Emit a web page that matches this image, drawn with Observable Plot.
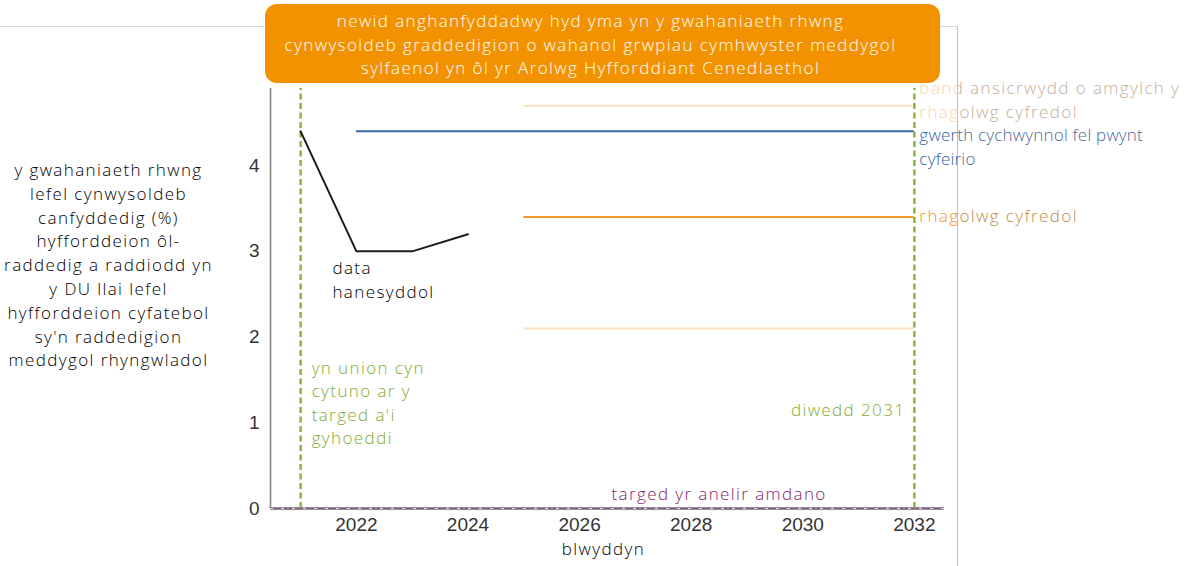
<!DOCTYPE html>
<html>
<head>
<meta charset="utf-8">
<script src="https://cdn.jsdelivr.net/npm/d3@7"></script>
<script src="https://cdn.jsdelivr.net/npm/@observablehq/plot@0.6"></script>
<style>
  html, body { margin: 0; padding: 0; background: #fff; }
  #wrap { position: relative; width: 1187px; height: 566px; overflow: hidden; font-family: "Open Sans", sans-serif; }
  #frame { position: absolute; left: 0; top: 26px; width: 957px; height: 560px;
           border-top: 1px solid #d6d6d6; border-right: 1px solid #bdbdbd; }
  #chart { position: absolute; left: 0; top: 0; }
  #chart g[aria-label="text"] text { letter-spacing: 1.4px; font-weight: 300; }
  #chart g.tight text { letter-spacing: 0.2px; }
  #title { position: absolute; left: 265px; top: 4px; width: 675px; height: 79px;
           background: #f39200; border-radius: 12px; color: #fff;
           font-family: "Open Sans", sans-serif; font-size: 17px; font-weight: 300; line-height: 23.5px; letter-spacing: 1.4px;
           text-align: center; box-sizing: border-box; padding: 5px 24px 0 0; }
</style>
</head>
<body>
<div id="wrap">
  <div id="frame"></div>
  <div id="chart"></div>
  <div id="title">newid anghanfyddadwy hyd yma yn y gwahaniaeth rhwng<br>cynwysoldeb graddedigion o wahanol grwpiau cymhwyster meddygol<br>sylfaenol yn ôl yr Arolwg Hyfforddiant Cenedlaethol</div>
</div>
<script>
// Historical gap (percentage points) between UK and international medical graduates
const years = [2021, 2022, 2023, 2024];
const gapValues = [4.4, 3.0, 3.0, 3.2];

// Reference level (starting value) carried forward
const baselineYears = [2022, 2032];
const baselineValue = 4.4;

// Current projection with its uncertainty band
const forecastYears = [2025, 2032];
const forecastValue = 3.4;
const bandValues = [2.1, 4.7];

// Target gap and the milestone years (agreement of the target, end of 2031)
const targetValue = 0;
const milestoneYears = [2021, 2032];

// Axes
const xTicks = [2022, 2024, 2026, 2028, 2030, 2032];
const yTicks = [0, 1, 2, 3, 4];
const xDomain = [2020.46, 2032.54];
const yDomain = [0, 4.9];

// Text
const yLabel = "y gwahaniaeth rhwng\nlefel cynwysoldeb\ncanfyddedig (%)\nhyfforddeion ôl-\nraddedig a raddiodd yn\ny DU llai lefel\nhyfforddeion cyfatebol\nsy'n raddedigion\nmeddygol rhyngwladol";
const xLabel = "blwyddyn";
const historyLabel = "data\nhanesyddol";
const startLabel = "yn union cyn\ncytuno ar y\ntarged a'i\ngyhoeddi";
const endLabel = "diwedd 2031";
const targetLabel = "targed yr anelir amdano";
const bandLabel = "band ansicrwydd o amgylch y\nrhagolwg cyfredol";
const baselineLabel = "gwerth cychwynnol fel pwynt\ncyfeirio";
const forecastLabel = "rhagolwg cyfredol";

const FONT = "'Open Sans', sans-serif";
const TICK_FONT = "'Liberation Sans', Arial, sans-serif";
const history = years.map((year, i) => ({year, value: gapValues[i]}));

// A right-hand label drawn twice: full colour inside the panel, muted beyond its edge
function sideLabel(text, value, dy, inside, outside, tight = false) {
  const common = {x: milestoneYears[1], y: value, dx: 5, dy, textAnchor: "start", lineAnchor: "middle",
                  fontSize: 17, fontFamily: FONT, lineHeight: 1.38};
  const t = tight ? " tight" : "";
  return [
    Plot.text([text], {...common, fill: inside, ariaDescription: "side-in" + t}),
    Plot.text([text], {...common, fill: outside, ariaDescription: "side-out" + t})
  ];
}

const chart = Plot.plot({
  width: 1187,
  height: 566,
  marginLeft: 270,
  marginRight: 243,
  marginTop: 88,
  marginBottom: 58,
  style: {background: "transparent", overflow: "visible", fontFamily: FONT},
  x: {domain: xDomain, axis: null},
  y: {domain: yDomain, axis: null},
  marks: [
    // axis lines and the target line at zero
    Plot.ruleX([xDomain[0]], {y1: yDomain[0], y2: yDomain[1], stroke: "#858585", strokeWidth: 1.6}),
    Plot.ruleY([targetValue], {x1: xDomain[0], x2: xDomain[1], stroke: "#7d6079", strokeWidth: 2.5}),
    Plot.ruleY([targetValue], {x1: xDomain[0], x2: xDomain[1], stroke: "#e2d6df", strokeWidth: 1, strokeDasharray: "3,8"}),

    // uncertainty band, projection and reference level
    Plot.ruleY(bandValues, {x1: forecastYears[0], x2: forecastYears[1], stroke: "#fde1c3", strokeWidth: 2}),
    Plot.ruleY([forecastValue], {x1: forecastYears[0], x2: forecastYears[1], stroke: "#f49a2c", strokeWidth: 2}),
    Plot.ruleY([baselineValue], {x1: baselineYears[0], x2: baselineYears[1], stroke: "#3d6aac", strokeWidth: 2}),

    // milestone markers
    Plot.ruleX(milestoneYears, {y1: yDomain[0], y2: yDomain[1], stroke: "#8cb43c", strokeWidth: 2.5, strokeDasharray: "6,3.5"}),

    // historical series
    Plot.line(history, {x: "year", y: "value", stroke: "#1c1c1c", strokeWidth: 2}),

    // axes
    Plot.axisX({ticks: xTicks, tickSize: 0, tickPadding: 9, tickFormat: "d", label: null,
                fontSize: 19, fontFamily: TICK_FONT, fill: "#333"}),
    Plot.axisY({ticks: yTicks, tickSize: 0, tickPadding: 11, tickFormat: "d", label: null,
                fontSize: 19, fontFamily: TICK_FONT, fill: "#333"}),
    Plot.text([xLabel], {frameAnchor: "bottom", dx: -4, dy: 46, fontSize: 17, fontFamily: FONT, fill: "#000"}),
    Plot.text([yLabel], {frameAnchor: "left", dx: -162, dy: -35, textAnchor: "middle", lineAnchor: "middle",
                         lineHeight: 1.4, fontSize: 17, fontFamily: FONT, fill: "#000"}),

    // annotations
    Plot.text([historyLabel], {x: years[1], y: gapValues[1], dx: -24, dy: 27, textAnchor: "start", lineAnchor: "middle",
                               lineHeight: 1.38, fontSize: 17, fontFamily: FONT, fill: "#000"}),
    Plot.text([startLabel], {x: milestoneYears[0], y: 1.225, dx: 11, dy: -2, textAnchor: "start", lineAnchor: "middle",
                             lineHeight: 1.38, fontSize: 17, fontFamily: FONT, fill: "#80ab30"}),
    Plot.text([endLabel], {x: milestoneYears[1], y: 1.14, dx: -9, textAnchor: "end", lineAnchor: "middle",
                           fontSize: 17, fontFamily: FONT, fill: "#80ab30"}),
    Plot.text([targetLabel], {x: 2028.5, y: targetValue, dy: -14, textAnchor: "middle", lineAnchor: "middle",
                              fontSize: 17, fontFamily: FONT, fill: "#82246a"}),
    ...sideLabel(bandLabel, bandValues[1], -7, "#f9d6ac", "#c0b09c"),
    ...sideLabel(baselineLabel, baselineValue, 14, "#3163a8", "#506a96", true),
    ...sideLabel(forecastLabel, forecastValue, -3, "#f39322", "#bd8a4e")
  ]
});

document.getElementById("chart").append(chart);

// Clip the two copies of each side label at the panel edge
const svg = chart.tagName.toLowerCase() === "svg" ? chart : chart.querySelector("svg");
const NS = "http://www.w3.org/2000/svg";
const defs = document.createElementNS(NS, "defs");
const edge = 958;
for (const [id, x, w] of [["clip-in", 0, edge], ["clip-out", edge, 1187 - edge]]) {
  const cp = document.createElementNS(NS, "clipPath");
  cp.setAttribute("id", id);
  const r = document.createElementNS(NS, "rect");
  r.setAttribute("x", x); r.setAttribute("y", 0);
  r.setAttribute("width", w); r.setAttribute("height", 566);
  cp.append(r); defs.append(cp);
}
svg.prepend(defs);
svg.querySelectorAll("g[aria-description]").forEach(g => {
  const [side, tight] = g.getAttribute("aria-description").split(" ");
  if (side !== "side-in" && side !== "side-out") return;
  if (tight) g.classList.add("tight");
  const wrapper = document.createElementNS(NS, "g");
  wrapper.setAttribute("clip-path", `url(#${side === "side-in" ? "clip-in" : "clip-out"})`);
  g.replaceWith(wrapper);
  wrapper.append(g);
});
</script>
</body>
</html>
